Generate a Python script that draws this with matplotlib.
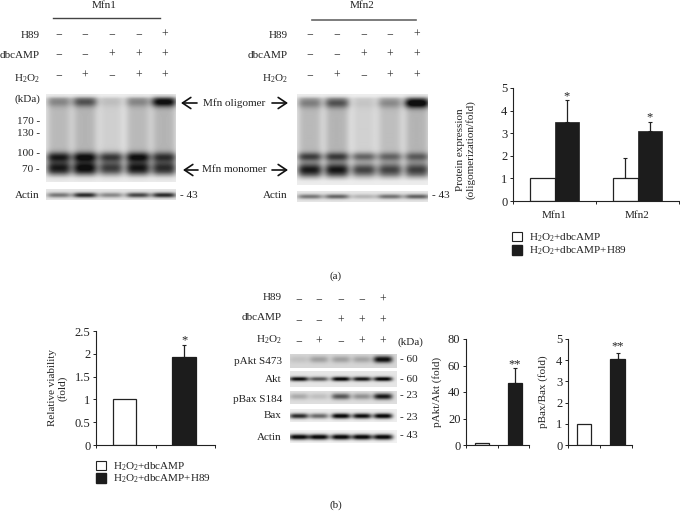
import numpy as np
import matplotlib
matplotlib.use("Agg")
import matplotlib.pyplot as plt
from matplotlib.patches import Patch

plt.rcParams.update({
    "font.family": ["Liberation Serif", "DejaVu Serif"],
    "mathtext.fontset": "custom",
    "mathtext.rm": "Liberation Serif",
    "mathtext.default": "regular",
    "text.color": "#222222",
    "axes.edgecolor": "#222222",
    "xtick.color": "#222222",
    "ytick.color": "#222222",
    "axes.linewidth": 0.8,
})

# ---------- data ----------
bar_groups = ["Mfn1", "Mfn2"]
oligo_white = [1.0, 1.0]
oligo_black = [3.5, 3.1]
oligo_white_err = [0.0, 0.9]
oligo_black_err = [0.95, 0.4]
viability = [1.0, 1.92]
viability_err = [0.0, 0.27]
pakt = [1.2, 46.5]
pakt_err = [0.0, 11.5]
pbax = [1.0, 4.05]
pbax_err = [0.0, 0.3]
legend_labels = ["H$_2$O$_2$+dbcAMP", "H$_2$O$_2$+dbcAMP+H89"]

h89_row = ["−", "−", "−", "−", "+"]
dbc_row = ["−", "−", "+", "+", "+"]
h2o2_row = ["−", "+", "−", "+", "+"]

# blot band darkness per lane (0 = none, 1 = black)
mfn1_oligomer = [0.22, 0.42, 0.07, 0.22, 0.75]
mfn1_smear = [0.22, 0.24, 0.13, 0.22, 0.24]
mfn1_upper = [0.62, 0.68, 0.58, 0.68, 0.52]
mfn1_lower = [0.68, 0.74, 0.62, 0.70, 0.58]
mfn1_actin = [0.50, 0.85, 0.42, 0.72, 0.85]
mfn2_oligomer = [0.25, 0.42, 0.05, 0.22, 0.85]
mfn2_smear = [0.22, 0.24, 0.12, 0.20, 0.24]
mfn2_upper = [0.52, 0.52, 0.45, 0.38, 0.38]
mfn2_lower = [0.68, 0.68, 0.60, 0.52, 0.50]
mfn2_actin = [0.50, 0.58, 0.22, 0.52, 0.60]
pakt_bands = [0.10, 0.26, 0.26, 0.24, 1.00]
akt_bands = [0.95, 0.62, 1.00, 0.90, 1.00]
pbax_bands = [0.24, 0.14, 0.62, 0.35, 0.92]
bax_bands = [0.82, 0.55, 1.00, 0.95, 1.00]
actinb_bands = [1.00, 1.00, 1.00, 1.00, 1.00]

W, H = 680, 520
fig = plt.figure(figsize=(W / 100, H / 100), dpi=100, facecolor="white")
bg = fig.add_axes([0, 0, 1, 1])
bg.set_xlim(0, W)
bg.set_ylim(H, 0)
bg.axis("off")
FS = 8.0


def px_axes(x0, y0, x1, y1, **kw):
    return fig.add_axes([x0 / W, 1 - y1 / H, (x1 - x0) / W, (y1 - y0) / H], **kw)


def blot(x0, y0, x1, y1, lanes, lane_w, bands, smear=None, base=0.07):
    """bands: list of (y px, sigma px, lane darkness list)"""
    ax = px_axes(x0, y0, x1, y1)
    xs = np.arange(x0, x1) + 0.5
    ys = np.arange(y0, y1) + 0.5
    dark = np.zeros((len(ys), len(xs)))
    for i, c in enumerate(lanes):
        prof = np.exp(-np.abs((xs - c) / (lane_w / 2)) ** 4)[None, :]
        col = np.zeros(len(ys))
        for yc, sig, vals in bands:
            col = col + vals[i] * np.exp(-0.5 * ((ys - yc) / sig) ** 2)
        if smear is not None:
            top, bot, vals = smear
            col = col + vals[i] * (np.clip((ys - top) / 3, 0, 1) * np.clip((bot - ys) / 6, 0, 1))
        dark = dark + col[:, None] * prof
    img = 1 - np.clip(base + dark * (1 - base), 0, 0.94)
    ax.imshow(img, cmap="gray", vmin=0, vmax=1, aspect="auto", interpolation="bilinear")
    ax.axis("off")


def sign_rows(lanes, rows):
    for y, row in rows:
        for c, s in zip(lanes, row):
            bg.text(c, y + 2.5, s, ha="center", va="baseline", fontsize=FS + 0.5, color="#333333")


def rlabel(x, y, s):
    bg.text(x, y, s, ha="right", va="center", fontsize=FS)


def llabel(x, y, s):
    bg.text(x, y, s, ha="left", va="center", fontsize=FS)


def arrow(x_tail, x_head, y):
    bg.annotate("", xy=(x_head, y), xytext=(x_tail, y),
                arrowprops=dict(arrowstyle="->,head_length=0.6,head_width=0.4",
                                lw=1.2, color="#111111", shrinkA=0, shrinkB=0))


# ---------- (a) blots ----------
lanes1 = [59, 85, 111, 138, 164]
blot(46, 94, 176, 182, lanes1, 25,
     [(102, 3.5, mfn1_oligomer), (157, 3.5, mfn1_upper), (168, 5, mfn1_lower)],
     smear=(96, 178, mfn1_smear))
blot(46, 189, 176, 200, lanes1, 24, [(195.5, 1.6, mfn1_actin)], base=0.10)
lanes2 = [310, 337, 364, 390, 417]
blot(297, 94, 428, 185, lanes2, 25,
     [(104, 3.5, mfn2_oligomer), (157, 3, mfn2_upper), (170, 4.5, mfn2_lower)],
     smear=(97, 181, mfn2_smear))
blot(297, 191, 428, 202, lanes2, 25, [(197, 1.5, mfn2_actin)], base=0.10)

bg.text(104, 6, "Mfn1", ha="center", va="center", fontsize=FS)
bg.plot([53, 160], [18, 18], color="#444444", lw=1)
bg.text(362, 6, "Mfn2", ha="center", va="center", fontsize=FS)
bg.plot([312, 416], [20, 20], color="#666666", lw=1.2)
sign_rows([59, 85, 112, 139, 165], [(35, h89_row), (55, dbc_row), (76, h2o2_row)])
sign_rows(lanes2, [(35, h89_row), (55, dbc_row), (76, h2o2_row)])
for xr in (40, 288):
    rlabel(xr, 36, "H89")
    rlabel(xr, 56, "dbcAMP")
    rlabel(xr, 79, "H$_2$O$_2$")
rlabel(40, 99, "(kDa)")
for y, s in [(122, "170 -"), (134, "130 -"), (153, "100 -"), (170, "70 -")]:
    rlabel(40, y, s)
rlabel(40, 195, "Actin")
rlabel(288, 196, "Actin")
llabel(180, 196, "- 43")
llabel(432, 196, "- 43")
llabel(203, 103, "Mfn oligomer")
llabel(202, 170, "Mfn monomer")
arrow(197, 181, 103)
arrow(198, 183, 170)
arrow(272, 288, 103)
arrow(272, 288, 170)

# ---------- (b) blots ----------
lanesb = [299, 319, 341, 362, 383]
blot(290, 354, 397, 368, lanesb, 19, [(360, 2.2, pakt_bands)], base=0.16)
blot(290, 371, 397, 387, lanesb, 19, [(379, 1.6, akt_bands)], base=0.10)
blot(290, 391, 397, 404, lanesb, 19, [(397, 2.0, pbax_bands)], base=0.13)
blot(290, 409, 397, 422, lanesb, 19, [(416, 1.9, bax_bands)], base=0.07)
blot(290, 430, 397, 443, lanesb, 20, [(437, 2.0, actinb_bands)], base=0.05)
sign_rows(lanesb, [(300, h89_row), (321, dbc_row), (342, h2o2_row)])
rlabel(282, 297, "H89")
rlabel(282, 317, "dbcAMP")
rlabel(282, 340, "H$_2$O$_2$")
llabel(397, 342, "(kDa)")
for y, s in [(362, "pAkt S473"), (379, "Akt"), (399, "pBax S184"), (415, "Bax"), (437, "Actin")]:
    rlabel(282, y, s)
for y, s in [(360, "- 60"), (379, "- 60"), (396, "- 23"), (417, "- 23"), (436, "- 43")]:
    llabel(400, y, s)


# ---------- bar charts ----------
def style(ax, ymax, yticks, yticklabels, n):
    ax.set_xlim(0, n)
    ax.set_ylim(0, ymax)
    ax.patch.set_alpha(0)
    ax.spines[["top", "right"]].set_visible(False)
    ax.set_yticks(yticks, yticklabels, fontsize=FS + 1)
    ax.set_xticks(np.arange(n + 1))
    ax.set_xticklabels([])
    ax.tick_params(axis="both", length=2.5, width=0.7, pad=1.5)


def ebar(ax, x, y, e):
    if e > 0:
        ax.errorbar(x, y, yerr=[[0], [e]], color="#222222", lw=0.9, capsize=1.6,
                    capthick=0.8, zorder=1)


ax_a = px_axes(513, 88, 679, 201)
style(ax_a, 5, range(6), [str(i) for i in range(6)], 2)
xa = np.arange(len(bar_groups)) + 0.5
bw = 0.29
ax_a.bar(xa - bw / 2, oligo_white, bw, color="white", edgecolor="#222222", lw=0.9, zorder=2)
ax_a.bar(xa + bw / 2, oligo_black, bw, color="#1c1c1c", edgecolor="#1c1c1c", lw=0.5, zorder=2)
for x, v, e in zip(xa - bw / 2, oligo_white, oligo_white_err):
    ebar(ax_a, x, v, e)
for x, v, e in zip(xa + bw / 2, oligo_black, oligo_black_err):
    ebar(ax_a, x, v, e)
    ax_a.text(x, v + e + 0.2, "*", ha="center", va="center", fontsize=FS + 1)
ax_a.set_xticks(xa, minor=True)
ax_a.set_xticklabels(bar_groups, minor=True, fontsize=FS)
ax_a.tick_params(axis="x", which="minor", length=0, pad=7)
bg.text(466, 150, "Protein expression\n(oligomerization/fold)", rotation=90,
        ha="center", va="center", fontsize=FS, linespacing=1.05)
fig.legend(handles=[Patch(fc="white", ec="#222222", lw=0.8), Patch(fc="#1c1c1c", ec="#1c1c1c")],
           labels=legend_labels, loc="upper left", frameon=False, fontsize=FS,
           bbox_to_anchor=(509 / W, 1 - 228 / H), handlelength=0.9, handleheight=0.9,
           handletextpad=0.6, labelspacing=0.1, borderpad=0.3, borderaxespad=0)

ax_v = px_axes(96, 331, 215, 445)
style(ax_v, 2.5, [0, 0.5, 1, 1.5, 2, 2.5], ["0", "0.5", "1", "1.5", "2", "2.5"], 2)
xv = np.array([0.48, 1.48])
ax_v.bar(xv, viability, 0.4, color=["white", "#1c1c1c"], edgecolor=["#222222", "#1c1c1c"], lw=0.9, zorder=2)
ebar(ax_v, xv[1], viability[1], viability_err[1])
ax_v.text(xv[1], 2.3, "*", ha="center", va="center", fontsize=FS + 1)
bg.text(58, 388, "Relative viability\n(fold)", rotation=90, ha="center", va="center",
        fontsize=FS, linespacing=1.05)
fig.legend(handles=[Patch(fc="white", ec="#222222", lw=0.8), Patch(fc="#1c1c1c", ec="#1c1c1c")],
           labels=legend_labels, loc="upper left", frameon=False, fontsize=FS,
           bbox_to_anchor=(93 / W, 1 - 457 / H), handlelength=0.9, handleheight=0.9,
           handletextpad=0.6, labelspacing=0.0, borderpad=0.3, borderaxespad=0)

ax_k = px_axes(466, 339, 529, 445)
style(ax_k, 80, range(0, 81, 20), [str(i) for i in range(0, 81, 20)], 2)
xk = np.array([0.5, 1.55])
ax_k.bar(xk, pakt, 0.44, color=["white", "#1c1c1c"], edgecolor=["#222222", "#1c1c1c"], lw=0.9, zorder=2)
ebar(ax_k, xk[1], pakt[1], pakt_err[1])
ax_k.text(xk[1], 61, "**", ha="center", va="center", fontsize=FS + 1)
bg.text(437, 392, "pAkt/Akt (fold)", rotation=90, ha="center", va="center", fontsize=FS)

ax_b = px_axes(568, 339, 632, 445)
style(ax_b, 5, range(6), [str(i) for i in range(6)], 2)
xb = np.array([0.5, 1.55])
ax_b.bar(xb, pbax, 0.46, color=["white", "#1c1c1c"], edgecolor=["#222222", "#1c1c1c"], lw=0.9, zorder=2)
ebar(ax_b, xb[1], pbax[1], pbax_err[1])
ax_b.text(xb[1], 4.65, "**", ha="center", va="center", fontsize=FS + 1)
bg.text(543, 392, "pBax/Bax (fold)", rotation=90, ha="center", va="center", fontsize=FS)

bg.text(336, 276, "(a)", ha="center", va="center", fontsize=FS)
bg.text(336, 505, "(b)", ha="center", va="center", fontsize=FS)

fig.savefig("out.png", dpi=100, facecolor="white")
